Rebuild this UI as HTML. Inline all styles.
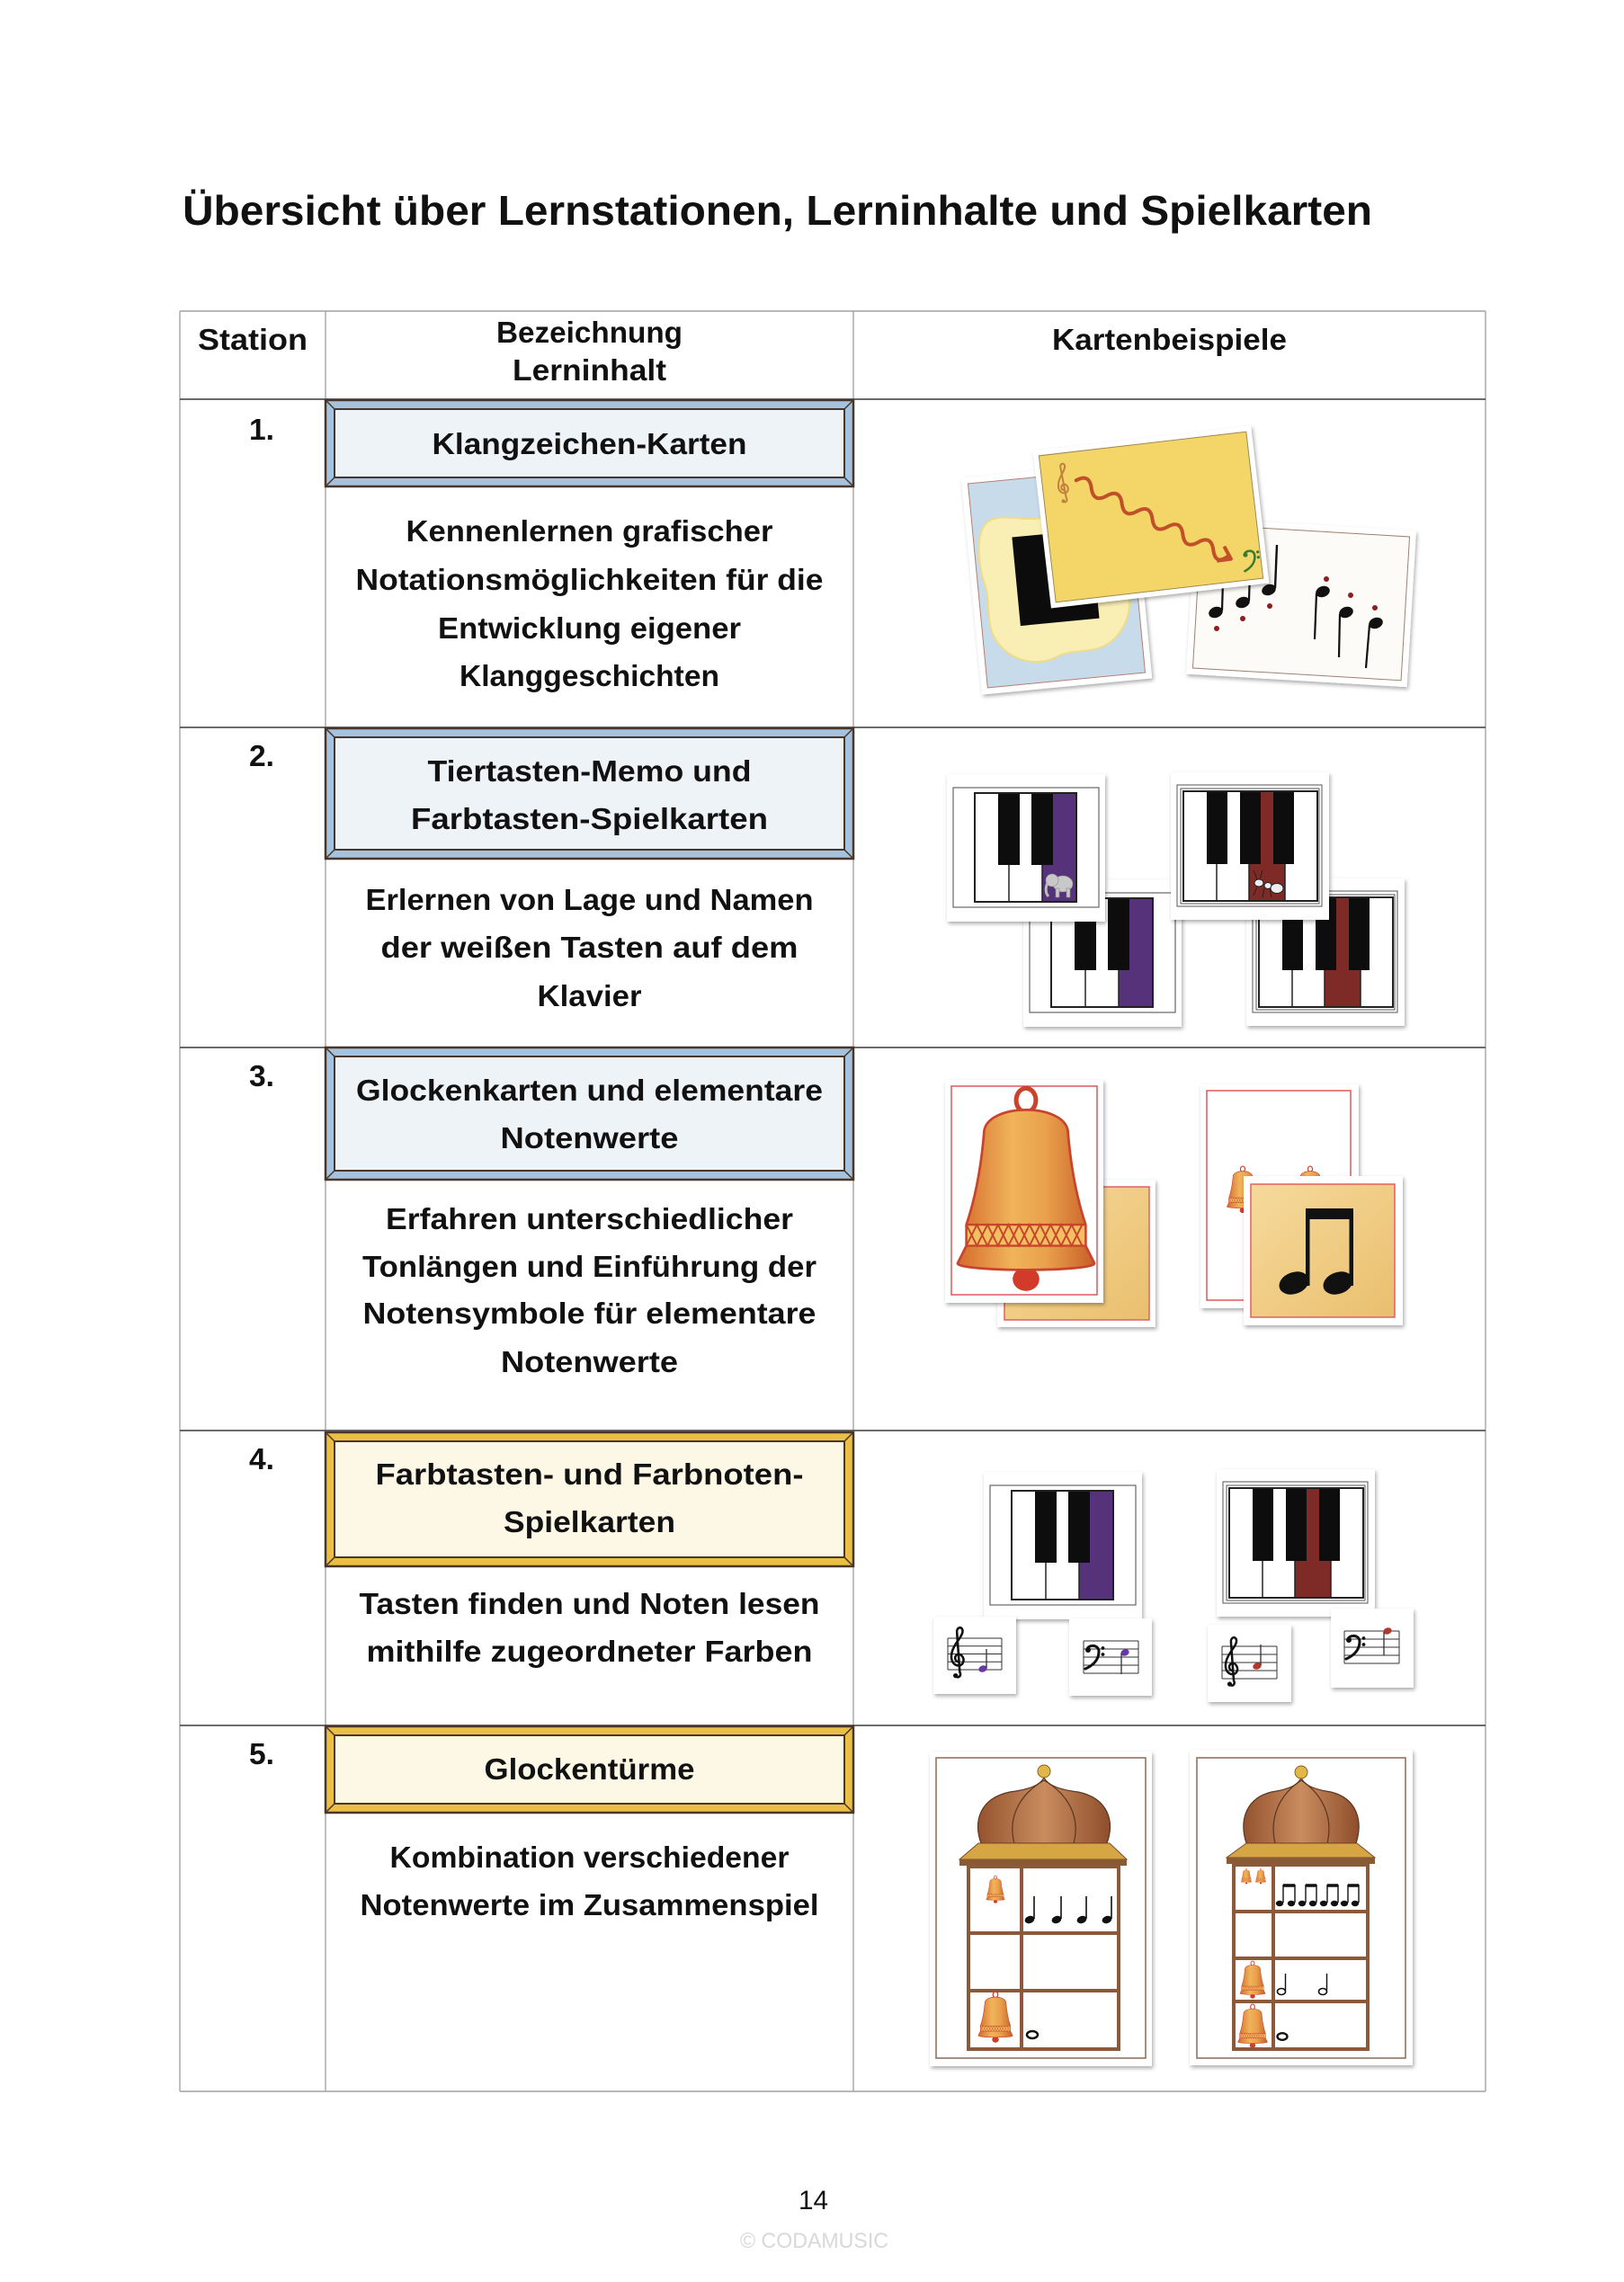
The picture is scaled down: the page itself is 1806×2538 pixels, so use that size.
<!DOCTYPE html>
<html><head><meta charset="utf-8">
<style>html,body{margin:0;padding:0;background:#fff}svg{display:block}
.t{font-family:"Liberation Sans",Arial,sans-serif;font-size:33px;font-weight:bold;fill:#111}
.c{text-anchor:middle}
</style></head>
<body>
<svg width="1806" height="2538" viewBox="0 0 1806 2538" xmlns="http://www.w3.org/2000/svg">
<defs>
<filter id="sh" x="-10%" y="-10%" width="125%" height="125%"><feDropShadow dx="1.5" dy="2.5" stdDeviation="2" flood-color="#000" flood-opacity="0.32"/></filter>
<linearGradient id="bellGrad" x1="0" y1="0" x2="1" y2="0"><stop offset="0" stop-color="#D46A2C"/><stop offset="0.4" stop-color="#F0B45A"/><stop offset="0.65" stop-color="#E9A04C"/><stop offset="1" stop-color="#C85E28"/></linearGradient>
<linearGradient id="ygrad" x1="0" y1="0" x2="1" y2="1"><stop offset="0" stop-color="#F6DA9C"/><stop offset="1" stop-color="#EABF6E"/></linearGradient>
<linearGradient id="domeGrad" x1="0" y1="0" x2="1" y2="0"><stop offset="0" stop-color="#94532F"/><stop offset="0.5" stop-color="#C98C5E"/><stop offset="1" stop-color="#8E4E2C"/></linearGradient>
<g id="bell">
<ellipse cx="0" cy="54.5" rx="3.8" ry="3.4" fill="#D23A2A"/>
<ellipse cx="0" cy="3.5" rx="2.8" ry="3.4" fill="none" stroke="#C8442C" stroke-width="1.3"/>
<path d="M-12,13 C-12,4 12,4 12,13 C13,25 15,33 17,39 L17,45 L19.5,50 C19.5,52.5 -19.5,52.5 -19.5,50 L-17,45 L-17,39 C-15,33 -13,25 -12,13 Z" fill="url(#bellGrad)" stroke="#C8442C" stroke-width="0.7"/>
<rect x="-17" y="39" width="34" height="6" fill="#F2C060" stroke="#C8442C" stroke-width="0.6"/>
<path d="M-17,39 L-14,45 L-11,39 L-8,45 L-5,39 L-2,45 L1,39 L4,45 L7,39 L10,45 L13,39 L16,45 M-17,45 L-14,39 L-11,45 L-8,39 L-5,45 L-2,39 L1,45 L4,39 L7,45 L10,39 L13,45 L16,39" fill="none" stroke="#C8442C" stroke-width="0.5"/>
</g>
<g id="p3">
<rect x="0" y="0" width="176" height="164" fill="#fff"/>
<rect x="7" y="15" width="162" height="133" fill="none" stroke="#666" stroke-width="1.2"/>
<rect x="31" y="21" width="113" height="121" fill="#fff"/>
<rect x="118" y="21" width="26" height="80" fill="#55307A"/>
<rect x="106" y="101" width="38" height="41" fill="#55307A"/>
<line x1="69" y1="101" x2="69" y2="142" stroke="#222" stroke-width="1.5"/>
<line x1="106" y1="101" x2="106" y2="142" stroke="#222" stroke-width="1.5"/>
<rect x="57" y="21" width="24" height="80" fill="#111"/>
<rect x="94" y="21" width="24" height="80" fill="#111"/>
<rect x="31" y="21" width="113" height="121" fill="none" stroke="#222" stroke-width="2"/>
</g>
<g id="p4">
<rect x="0" y="0" width="176" height="164" fill="#fff"/>
<rect x="7" y="14" width="161" height="135" fill="none" stroke="#555" stroke-width="1"/>
<rect x="11" y="18" width="154" height="128" fill="none" stroke="#555" stroke-width="1"/>
<rect x="14" y="21" width="149" height="122" fill="#fff"/>
<rect x="100" y="21" width="14" height="81" fill="#7E2A25"/>
<rect x="87" y="102" width="40" height="41" fill="#7E2A25"/>
<line x1="51" y1="102" x2="51" y2="143" stroke="#222" stroke-width="1.5"/>
<line x1="87" y1="102" x2="87" y2="143" stroke="#222" stroke-width="1.5"/>
<line x1="127" y1="102" x2="127" y2="143" stroke="#222" stroke-width="1.5"/>
<rect x="40" y="21" width="23" height="81" fill="#111"/>
<rect x="77" y="21" width="23" height="81" fill="#111"/>
<rect x="114" y="21" width="23" height="81" fill="#111"/>
<rect x="14" y="21" width="149" height="122" fill="none" stroke="#222" stroke-width="2"/>
</g>
<g id="treble">
<path d="M7,55 C10,57 13,54 11,50 L8,8 C7,2 13,0 14,5 C15,12 3,20 2,32 C1,42 10,46 14,41 C17,36 13,30 9,31 C5,32 5,38 9,39" fill="none" stroke-width="2.5" stroke-linecap="round"/>
<circle cx="6.5" cy="54" r="2.6" stroke="none"/>
</g>
<g id="bass">
<path d="M3,7 C3,1 16,0 16,9 C16,19 8,25 1,28" fill="none" stroke-width="3" stroke-linecap="round"/>
<circle cx="4" cy="7" r="3" stroke="none"/>
<circle cx="20.5" cy="5" r="1.9" stroke="none"/>
<circle cx="20.5" cy="12" r="1.9" stroke="none"/>
</g>
</defs>

<!-- Title -->
<text x="203" y="250" font-family="Liberation Sans, Arial, sans-serif" font-size="46" font-weight="bold" fill="#111" textLength="1323" lengthAdjust="spacingAndGlyphs">Übersicht über Lernstationen, Lerninhalte und Spielkarten</text>

<!-- Table lines -->
<g fill="none">
<line x1="200" y1="346" x2="1652" y2="346" stroke="#b8b8b8" stroke-width="2"/>
<line x1="200" y1="2326" x2="1652" y2="2326" stroke="#b8b8b8" stroke-width="2"/>
<line x1="200" y1="346" x2="200" y2="2326" stroke="#aaa" stroke-width="1.5"/>
<line x1="362" y1="346" x2="362" y2="2326" stroke="#aaa" stroke-width="1.5"/>
<line x1="949" y1="346" x2="949" y2="2326" stroke="#aaa" stroke-width="1.5"/>
<line x1="1652" y1="346" x2="1652" y2="2326" stroke="#aaa" stroke-width="1.5"/>
<g stroke="#555" stroke-width="1.8">
<line x1="200" y1="444" x2="1652" y2="444"/>
<line x1="200" y1="809" x2="1652" y2="809"/>
<line x1="200" y1="1165" x2="1652" y2="1165"/>
<line x1="200" y1="1591" x2="1652" y2="1591"/>
<line x1="200" y1="1919" x2="1652" y2="1919"/>
</g>
</g>

<!-- Header -->
<text class="t c" x="281" y="389" textLength="122" lengthAdjust="spacingAndGlyphs">Station</text>
<text class="t c" x="655.5" y="381" textLength="207" lengthAdjust="spacingAndGlyphs">Bezeichnung</text>
<text class="t c" x="655.5" y="423" textLength="171" lengthAdjust="spacingAndGlyphs">Lerninhalt</text>
<text class="t c" x="1300.5" y="389" textLength="261" lengthAdjust="spacingAndGlyphs">Kartenbeispiele</text>

<!-- Row numbers -->
<text class="t" x="277" y="489" textLength="28" lengthAdjust="spacingAndGlyphs">1.</text>
<text class="t" x="277" y="852" textLength="28" lengthAdjust="spacingAndGlyphs">2.</text>
<text class="t" x="277" y="1208" textLength="28" lengthAdjust="spacingAndGlyphs">3.</text>
<text class="t" x="277" y="1634" textLength="28" lengthAdjust="spacingAndGlyphs">4.</text>
<text class="t" x="277" y="1962" textLength="28" lengthAdjust="spacingAndGlyphs">5.</text>

<!-- Beveled boxes -->
<g stroke="#4a3628">
<rect x="362" y="445" width="587" height="96" fill="#A5C2DF" stroke-width="2.5"/>
<rect x="372" y="455" width="567" height="76" fill="#EEF3F8" stroke-width="2"/>
<path d="M362,445 L372,455 M949,445 L939,455 M362,541 L372,531 M949,541 L939,531" stroke-width="1.5"/>

<rect x="362" y="810" width="587" height="145" fill="#A5C2DF" stroke-width="2.5"/>
<rect x="372" y="820" width="567" height="125" fill="#EEF3F8" stroke-width="2"/>
<path d="M362,810 L372,820 M949,810 L939,820 M362,955 L372,945 M949,955 L939,945" stroke-width="1.5"/>

<rect x="362" y="1165" width="587" height="147" fill="#A5C2DF" stroke-width="2.5"/>
<rect x="372" y="1175" width="567" height="127" fill="#EEF3F8" stroke-width="2"/>
<path d="M362,1165 L372,1175 M949,1165 L939,1175 M362,1312 L372,1302 M949,1312 L939,1302" stroke-width="1.5"/>

<rect x="362" y="1593" width="587" height="149" fill="#EABF48" stroke-width="2.5"/>
<rect x="372" y="1603" width="567" height="129" fill="#FDF8E5" stroke-width="2"/>
<path d="M362,1593 L372,1603 M949,1593 L939,1603 M362,1742 L372,1732 M949,1742 L939,1732" stroke-width="1.5"/>

<rect x="362" y="1920" width="587" height="96" fill="#EABF48" stroke-width="2.5"/>
<rect x="372" y="1930" width="567" height="76" fill="#FDF8E5" stroke-width="2"/>
<path d="M362,1920 L372,1930 M949,1920 L939,1930 M362,2016 L372,2006 M949,2016 L939,2006" stroke-width="1.5"/>
</g>

<!-- Column 2 texts -->
<text class="t c" x="655.5" y="505" textLength="350" lengthAdjust="spacingAndGlyphs">Klangzeichen-Karten</text>
<text class="t c" x="655.5" y="602" textLength="408" lengthAdjust="spacingAndGlyphs">Kennenlernen grafischer</text>
<text class="t c" x="655.5" y="656" textLength="520" lengthAdjust="spacingAndGlyphs">Notationsmöglichkeiten für die</text>
<text class="t c" x="655.5" y="710" textLength="337" lengthAdjust="spacingAndGlyphs">Entwicklung eigener</text>
<text class="t c" x="655.5" y="763" textLength="289" lengthAdjust="spacingAndGlyphs">Klanggeschichten</text>

<text class="t c" x="655.5" y="869" textLength="360" lengthAdjust="spacingAndGlyphs">Tiertasten-Memo und</text>
<text class="t c" x="655.5" y="922" textLength="397" lengthAdjust="spacingAndGlyphs">Farbtasten-Spielkarten</text>
<text class="t c" x="655.5" y="1012" textLength="498" lengthAdjust="spacingAndGlyphs">Erlernen von Lage und Namen</text>
<text class="t c" x="655.5" y="1065" textLength="464" lengthAdjust="spacingAndGlyphs">der weißen Tasten auf dem</text>
<text class="t c" x="655.5" y="1119" textLength="116" lengthAdjust="spacingAndGlyphs">Klavier</text>

<text class="t c" x="655.5" y="1224" textLength="519" lengthAdjust="spacingAndGlyphs">Glockenkarten und elementare</text>
<text class="t c" x="655.5" y="1277" textLength="198" lengthAdjust="spacingAndGlyphs">Notenwerte</text>
<text class="t c" x="655.5" y="1367" textLength="453" lengthAdjust="spacingAndGlyphs">Erfahren unterschiedlicher</text>
<text class="t c" x="655.5" y="1420" textLength="505" lengthAdjust="spacingAndGlyphs">Tonlängen und Einführung der</text>
<text class="t c" x="655.5" y="1472" textLength="504" lengthAdjust="spacingAndGlyphs">Notensymbole für elementare</text>
<text class="t c" x="655.5" y="1526" textLength="197" lengthAdjust="spacingAndGlyphs">Notenwerte</text>

<text class="t c" x="655.5" y="1651" textLength="476" lengthAdjust="spacingAndGlyphs">Farbtasten- und Farbnoten-</text>
<text class="t c" x="655.5" y="1704" textLength="191" lengthAdjust="spacingAndGlyphs">Spielkarten</text>
<text class="t c" x="655.5" y="1795" textLength="512" lengthAdjust="spacingAndGlyphs">Tasten finden und Noten lesen</text>
<text class="t c" x="655.5" y="1848" textLength="496" lengthAdjust="spacingAndGlyphs">mithilfe zugeordneter Farben</text>

<text class="t c" x="655.5" y="1979" textLength="234" lengthAdjust="spacingAndGlyphs">Glockentürme</text>
<text class="t c" x="655.5" y="2077" textLength="444" lengthAdjust="spacingAndGlyphs">Kombination verschiedener</text>
<text class="t c" x="655.5" y="2130" textLength="510" lengthAdjust="spacingAndGlyphs">Notenwerte im Zusammenspiel</text>

<!-- ROW 1 cards -->
<g transform="translate(1175,643) rotate(-5.5)">
<rect x="-95" y="-121" width="190" height="242" fill="#fff" filter="url(#sh)"/>
<rect x="-88" y="-114" width="176" height="228" fill="#C7DBEA" stroke="#B58070" stroke-width="1"/>
<path d="M-70,-70 C-50,-80 -20,-60 0,-72 C25,-82 55,-70 62,-50 C75,-30 68,-5 76,15 C84,40 70,65 55,75 C35,90 10,78 -10,88 C-35,96 -60,85 -72,65 C-85,45 -75,20 -80,0 C-86,-25 -85,-60 -70,-70 Z" fill="#F9EFB5" stroke="#EEDC8A" stroke-width="2"/>
<rect x="-45" y="-50" width="88" height="99" fill="#0c0c0c"/>
</g>
<g transform="translate(1447,670) rotate(3.4)">
<rect x="-123" y="-87" width="246" height="174" fill="#fff" filter="url(#sh)"/>
<rect x="-116" y="-80" width="232" height="160" fill="#FDFBF8" stroke="#A08070" stroke-width="1"/>
</g>
<!-- notes on white card -->
<g fill="#111" stroke="#111">
<ellipse cx="1352" cy="681" rx="8" ry="6" transform="rotate(-20 1352 681)" stroke="none"/>
<ellipse cx="1382" cy="670" rx="8" ry="6" transform="rotate(-20 1382 670)" stroke="none"/>
<ellipse cx="1411" cy="656" rx="8" ry="6" transform="rotate(-20 1411 656)" stroke="none"/>
<line x1="1359" y1="679" x2="1360" y2="646" stroke-width="2.2"/>
<line x1="1389" y1="668" x2="1390" y2="634" stroke-width="2.2"/>
<ellipse cx="1471" cy="658" rx="8" ry="6" transform="rotate(-20 1471 658)" stroke="none"/>
<ellipse cx="1497" cy="681" rx="8" ry="6" transform="rotate(-20 1497 681)" stroke="none"/>
<ellipse cx="1530" cy="693" rx="8" ry="6" transform="rotate(-20 1530 693)" stroke="none"/>
<line x1="1464" y1="660" x2="1462" y2="711" stroke-width="2.2"/>
<line x1="1490" y1="683" x2="1489" y2="731" stroke-width="2.2"/>
<line x1="1523" y1="695" x2="1519" y2="743" stroke-width="2.2"/>
</g>
<g fill="#8B1E1E">
<circle cx="1353" cy="699" r="3"/><circle cx="1382" cy="688" r="3"/><circle cx="1412" cy="674" r="3"/>
<circle cx="1475" cy="644" r="3"/><circle cx="1502" cy="662" r="3"/><circle cx="1529" cy="676" r="3"/>
</g>
<g transform="translate(1280,575) rotate(-6.6)">
<rect x="-122" y="-88" width="244" height="176" fill="#fff" filter="url(#sh)"/>
<rect x="-116" y="-82" width="232" height="164" fill="#F4D668" stroke="#A08850" stroke-width="1"/>
<use href="#treble" transform="translate(-100,-72) scale(0.8)" stroke="#C08040" fill="#C08040"/>
<g transform="translate(-78,-50) rotate(33.5)">
<path d="M0,0 Q9.5,-14 19,0 T38,0 T57,0 T76,0 T95,0 T114,0 T133,0 T152,0 T171,0 T188,0" fill="none" stroke="#C0502A" stroke-width="4" stroke-linecap="round"/>
<path d="M180,-9 L193,0 L180,9" fill="none" stroke="#C0502A" stroke-width="4" stroke-linejoin="round"/>
</g>
<use href="#bass" transform="translate(96,48) scale(0.85)" stroke="#3A7A30" fill="#3A7A30"/>
</g>
<!-- stem crossing -->
<line x1="1418" y1="654" x2="1420" y2="606" stroke="#111" stroke-width="2.4"/>

<!-- ROW 2 pianos -->
<use href="#p3" x="1138" y="978" filter="url(#sh)"/>
<use href="#p4" x="1386" y="977" filter="url(#sh)"/>
<use href="#p3" x="1053" y="861" filter="url(#sh)"/>
<use href="#p4" x="1302" y="859" filter="url(#sh)"/>
<g fill="#c8c8c8" stroke="#888" stroke-width="0.6">
<ellipse cx="1182" cy="983" rx="11" ry="9"/>
<circle cx="1170" cy="979" r="7"/>
<path d="M1165,982 C1162,988 1163,994 1166,997" fill="none" stroke="#bbb" stroke-width="3"/>
<rect x="1174" y="988" width="4" height="10"/><rect x="1186" y="988" width="4" height="10"/>
</g>
<g fill="#eee" stroke="#222" stroke-width="1">
<ellipse cx="1400" cy="982" rx="5" ry="4"/>
<ellipse cx="1410" cy="985" rx="4" ry="3.5"/>
<ellipse cx="1420" cy="988" rx="7" ry="5.5"/>
<path d="M1398,986 L1394,996 M1406,988 L1404,998 M1412,988 L1414,998 M1398,978 L1394,968 M1401,978 L1404,968" fill="none"/>
</g>

<!-- ROW 3 bells -->
<rect x="1109" y="1312" width="176" height="164" fill="#fff" filter="url(#sh)"/>
<rect x="1117" y="1320" width="161" height="148" fill="url(#ygrad)" stroke="#E06060" stroke-width="1.5"/>
<rect x="1051" y="1201" width="176" height="248" fill="#fff" filter="url(#sh)"/>
<rect x="1058" y="1208" width="162" height="232" fill="#fff" stroke="#E05858" stroke-width="1.5"/>
<use href="#bell" transform="translate(1141,1210) scale(3.9)"/>

<rect x="1335" y="1206" width="176" height="249" fill="#fff" filter="url(#sh)"/>
<rect x="1342" y="1213" width="160" height="233" fill="#fff" stroke="#E05858" stroke-width="1.5"/>
<use href="#bell" transform="translate(1382,1297) scale(0.9)"/>
<use href="#bell" transform="translate(1457,1297) scale(0.9)"/>
<rect x="1383" y="1308" width="177" height="166" fill="#fff" filter="url(#sh)"/>
<rect x="1391" y="1317" width="160" height="148" fill="url(#ygrad)" stroke="#E06060" stroke-width="1.5"/>
<g fill="#111">
<rect x="1452" y="1344" width="53" height="12"/>
<rect x="1452" y="1344" width="4.5" height="86"/>
<rect x="1500.5" y="1344" width="4.5" height="86"/>
<ellipse cx="1439" cy="1427" rx="17" ry="12" transform="rotate(-20 1439 1427)"/>
<ellipse cx="1488" cy="1427" rx="17" ry="12" transform="rotate(-20 1488 1427)"/>
</g>

<!-- ROW 4 -->
<use href="#p3" x="1094" y="1637" filter="url(#sh)"/>
<use href="#p4" x="1353" y="1634" filter="url(#sh)"/>
<g filter="url(#sh)" fill="#fff">
<rect x="1038" y="1798" width="92" height="86"/>
<rect x="1189" y="1800" width="92" height="86"/>
<rect x="1343" y="1807" width="93" height="86"/>
<rect x="1480" y="1789" width="92" height="88"/>
</g>
<g stroke="#333" stroke-width="1" fill="none">
<path d="M1054,1822 H1114 M1054,1830.75 H1114 M1054,1839.5 H1114 M1054,1848.25 H1114 M1054,1857 H1114 M1054,1822 V1857 M1114,1822 V1857"/>
<path d="M1205,1825 H1266 M1205,1834 H1266 M1205,1843 H1266 M1205,1852 H1266 M1205,1861 H1266 M1205,1825 V1861 M1266,1825 V1861"/>
<path d="M1359,1831 H1420 M1359,1840 H1420 M1359,1849 H1420 M1359,1858 H1420 M1359,1867 H1420 M1359,1831 V1867 M1420,1831 V1867"/>
<path d="M1495,1814 H1556 M1495,1823 H1556 M1495,1832 H1556 M1495,1841 H1556 M1495,1850 H1556 M1495,1814 V1850 M1556,1814 V1850"/>
</g>
<use href="#treble" transform="translate(1056,1808) scale(1.03)" stroke="#111" fill="#111"/>
<use href="#treble" transform="translate(1361,1819) scale(1.0)" stroke="#111" fill="#111"/>
<use href="#bass" transform="translate(1206,1828) scale(1.0)" stroke="#111" fill="#111"/>
<use href="#bass" transform="translate(1496,1817) scale(1.0)" stroke="#111" fill="#111"/>
<ellipse cx="1093" cy="1856" rx="4.8" ry="3.6" transform="rotate(-20 1093 1856)" fill="#6A35A8"/>
<line x1="1097" y1="1855" x2="1097" y2="1834" stroke="#333" stroke-width="1.3"/>
<ellipse cx="1251" cy="1838" rx="4.8" ry="3.6" transform="rotate(-20 1251 1838)" fill="#6A35A8"/>
<line x1="1247" y1="1839" x2="1247" y2="1862" stroke="#333" stroke-width="1.3"/>
<ellipse cx="1398" cy="1853" rx="4.8" ry="3.6" transform="rotate(-20 1398 1853)" fill="#B03A2E"/>
<line x1="1402" y1="1852" x2="1402" y2="1829" stroke="#333" stroke-width="1.3"/>
<ellipse cx="1543" cy="1814" rx="4.8" ry="3.6" transform="rotate(-20 1543 1814)" fill="#B03A2E"/>
<line x1="1539" y1="1815" x2="1539" y2="1841" stroke="#333" stroke-width="1.3"/>

<!-- ROW 5 towers -->
<rect x="1034" y="1948" width="247" height="350" fill="#fff" filter="url(#sh)"/>
<rect x="1041" y="1955" width="233" height="334" fill="none" stroke="#8B6A55" stroke-width="1.5"/>
<path d="M1091,2050 C1082,2025 1090,2000 1123,1993 C1146,1990 1157,1985 1161,1977 C1165,1985 1176,1990 1199,1993 C1232,2000 1240,2025 1231,2050 Z" fill="url(#domeGrad)" stroke="#5a3520" stroke-width="1.2"/>
<path d="M1161,1980 C1135,1995 1120,2020 1128,2050 M1161,1980 C1187,1995 1202,2020 1194,2050" fill="none" stroke="#5a3520" stroke-width="1.2"/>
<circle cx="1161" cy="1970" r="7" fill="#E0B84A" stroke="#8a6020" stroke-width="1"/>
<polygon points="1088,2050 1234,2050 1253,2068 1067,2068" fill="#D6A544" stroke="#7a4a2e" stroke-width="1"/>
<rect x="1067" y="2068" width="186" height="7" fill="#8a5a35"/>
<g stroke="#8B5A3A" stroke-width="4" fill="none">
<rect x="1077" y="2076" width="167" height="203"/>
<line x1="1136" y1="2076" x2="1136" y2="2279"/>
<line x1="1077" y1="2150" x2="1244" y2="2150"/>
<line x1="1077" y1="2214" x2="1244" y2="2214"/>
</g>
<use href="#bell" transform="translate(1107,2086) scale(0.53)"/>
<use href="#bell" transform="translate(1107,2215) scale(0.98)"/>
<g fill="#111" stroke="#111">
<ellipse cx="1145" cy="2135" rx="5.5" ry="4" transform="rotate(-20 1145 2135)" stroke="none"/>
<ellipse cx="1175" cy="2135" rx="5.5" ry="4" transform="rotate(-20 1175 2135)" stroke="none"/>
<ellipse cx="1203" cy="2135" rx="5.5" ry="4" transform="rotate(-20 1203 2135)" stroke="none"/>
<ellipse cx="1231" cy="2135" rx="5.5" ry="4" transform="rotate(-20 1231 2135)" stroke="none"/>
<path d="M1150,2134 V2109 M1180,2134 V2109 M1208,2134 V2109 M1236,2134 V2109" stroke-width="1.6"/>
</g>
<ellipse cx="1148" cy="2263" rx="6" ry="4" fill="none" stroke="#111" stroke-width="2.5"/>

<rect x="1323" y="1946" width="248" height="351" fill="#fff" filter="url(#sh)"/>
<rect x="1331" y="1955" width="232" height="334" fill="none" stroke="#8B6A55" stroke-width="1.5"/>
<path d="M1386,2050 C1378,2025 1385,2000 1414,1993 C1434,1990 1444,1985 1447,1977 C1450,1985 1460,1990 1480,1993 C1509,2000 1516,2025 1508,2050 Z" fill="url(#domeGrad)" stroke="#5a3520" stroke-width="1.2"/>
<path d="M1447,1980 C1424,1995 1411,2020 1418,2050 M1447,1980 C1470,1995 1483,2020 1476,2050" fill="none" stroke="#5a3520" stroke-width="1.2"/>
<circle cx="1447" cy="1971" r="7" fill="#E0B84A" stroke="#8a6020" stroke-width="1"/>
<polygon points="1386,2050 1509,2050 1529,2066 1364,2066" fill="#D6A544" stroke="#7a4a2e" stroke-width="1"/>
<rect x="1364" y="2066" width="165" height="7" fill="#8a5a35"/>
<g stroke="#8B5A3A" stroke-width="4" fill="none">
<rect x="1372" y="2074" width="149" height="205"/>
<line x1="1416" y1="2074" x2="1416" y2="2279"/>
<line x1="1372" y1="2126" x2="1521" y2="2126"/>
<line x1="1372" y1="2178" x2="1521" y2="2178"/>
<line x1="1372" y1="2226" x2="1521" y2="2226"/>
</g>
<use href="#bell" transform="translate(1386,2078) scale(0.3)"/>
<use href="#bell" transform="translate(1402,2078) scale(0.3)"/>
<use href="#bell" transform="translate(1393,2181) scale(0.72)"/>
<use href="#bell" transform="translate(1393,2229) scale(0.84)"/>
<g fill="#111" stroke="#111">
<ellipse cx="1423" cy="2117" rx="4.2" ry="3.2" stroke="none"/>
<ellipse cx="1436" cy="2117" rx="4.2" ry="3.2" stroke="none"/>
<ellipse cx="1448" cy="2117" rx="4.2" ry="3.2" stroke="none"/>
<ellipse cx="1460" cy="2117" rx="4.2" ry="3.2" stroke="none"/>
<ellipse cx="1472" cy="2117" rx="4.2" ry="3.2" stroke="none"/>
<ellipse cx="1484" cy="2117" rx="4.2" ry="3.2" stroke="none"/>
<ellipse cx="1495" cy="2117" rx="4.2" ry="3.2" stroke="none"/>
<ellipse cx="1507" cy="2117" rx="4.2" ry="3.2" stroke="none"/>
<path d="M1427,2116 V2096 M1440,2116 V2096 M1452,2116 V2096 M1464,2116 V2096 M1476,2116 V2096 M1488,2116 V2096 M1499,2116 V2096 M1511,2116 V2096" stroke-width="1.4"/>
<path d="M1427,2097 H1440 M1452,2097 H1464 M1476,2097 H1488 M1499,2097 H1511" stroke-width="3.5"/>
</g>
<g fill="none" stroke="#111">
<ellipse cx="1425" cy="2215" rx="4.5" ry="3.5" stroke-width="1.6"/>
<ellipse cx="1471" cy="2215" rx="4.5" ry="3.5" stroke-width="1.6"/>
<path d="M1429.5,2214 V2195 M1475.5,2214 V2195" stroke-width="1.4"/>
<ellipse cx="1426" cy="2265" rx="5.5" ry="3.8" stroke-width="2.4"/>
</g>

<!-- Footer -->
<text x="904.5" y="2457" text-anchor="middle" font-family="Liberation Sans, Arial, sans-serif" font-size="30" fill="#111" textLength="33" lengthAdjust="spacingAndGlyphs">14</text>
<text x="823" y="2500" font-family="Liberation Sans, Arial, sans-serif" font-size="24" fill="#d8d8d8" textLength="165" lengthAdjust="spacingAndGlyphs">© CODAMUSIC</text>
</svg>
</body></html>
